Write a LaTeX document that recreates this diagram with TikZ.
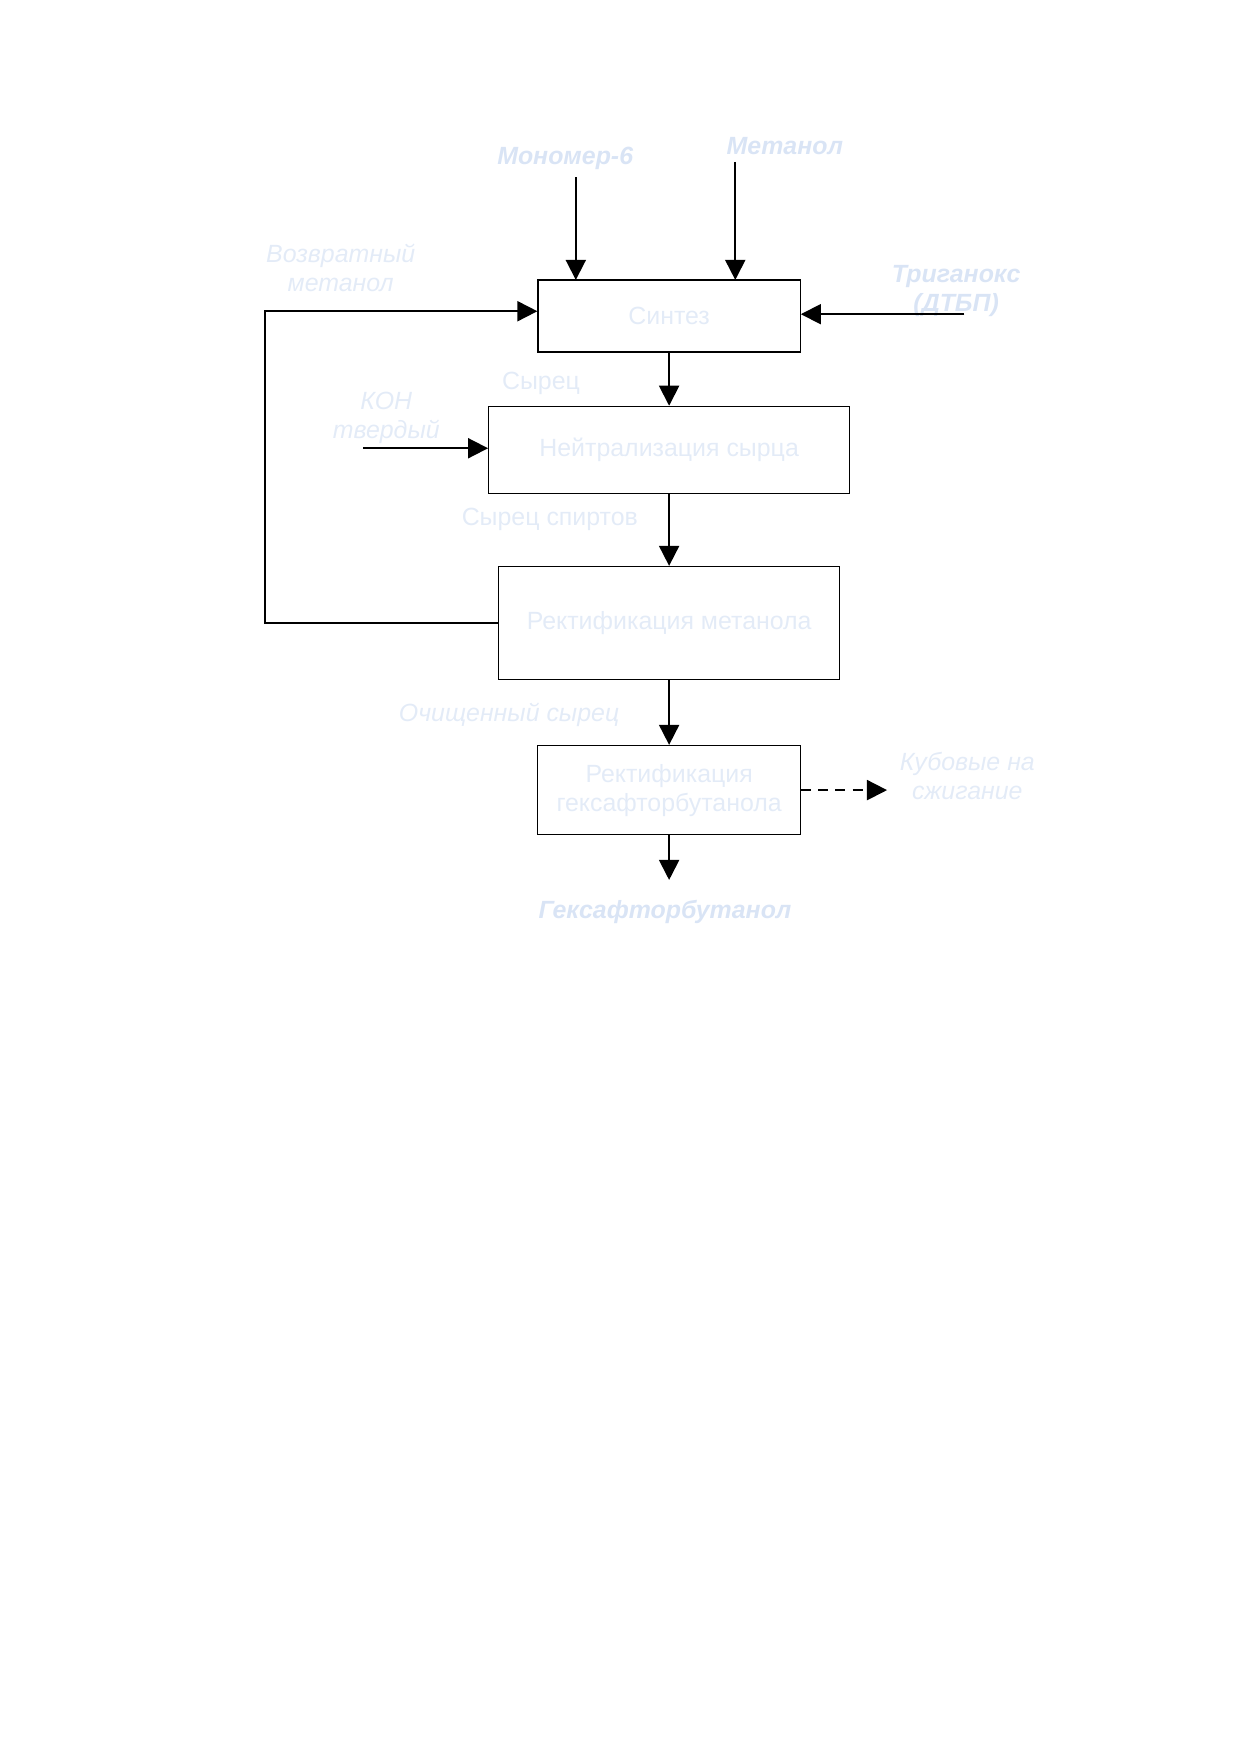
\documentclass[tikz,border=0pt]{standalone}
\usepackage{fontspec}
\setmainfont{Liberation Sans}
\usetikzlibrary{arrows.meta, positioning}

\definecolor{palefont}{RGB}{227,235,247}
\definecolor{palebold}{RGB}{217,228,245}

\tikzset{
    unit/.style = {draw, line width=0.6pt, align=center, text=palefont,
                   font=\fontsize{12}{14}\selectfont},
    feed/.style = {align=center, text=palebold,
                   font=\fontsize{12}{14}\selectfont\bfseries\itshape},
    side/.style = {align=center, text=palefont,
                   font=\fontsize{12}{14}\selectfont\itshape},
    flow/.style = {text=palefont, font=\fontsize{12}{14}\selectfont},
}

\begin{document}
\begin{tikzpicture}[auto, node distance = 1cm]
            \useasboundingbox (0,0) rectangle (21,-29.7);

            \node (synth) [unit, minimum width=4.44cm, minimum height=1.22cm] at (11.33,-5.35) {Синтез};
            \node (neutr) [unit, minimum width=6.11cm, minimum height=1.47cm, below=0.9cm of synth] {Нейтрализация сырца};
            \node (rectm) [unit, minimum width=5.77cm, minimum height=1.91cm, below=1.22cm of neutr] {Ректификация метанола};
            \node (hfb) [unit, minimum width=4.45cm, minimum height=1.51cm, below=1.1cm of rectm] {Ректификация\\гексафторбутанола};

            \node (mono) [feed] at (9.57,-2.69) {Мономер-6};
            \node (meth) [feed] at (13.29,-2.47) {Метанол};
            \node (trig) [feed] at (16.19,-4.92) {Триганокс\\(ДТБП)};
            \node (prod) [feed] at (11.26,-15.44) {Гексафторбутанол};
            \node (back) [side] at (5.77,-4.54) {Возвратный\\метанол};
            \node (koh) [side] at (6.54,-7.08) {КОН\\твердый};
            \node (waste) [side] at (16.38,-13.14) {Кубовые на\\сжигание};
            \node (pure) [side] at (8.62,-12.1) {Очищенный сырец};
            \node (raw) [flow] at (9.16,-6.5) {Сырец};
            \node (rawalc) [flow] at (9.31,-8.8) {Сырец спиртов};

            \coordinate (monoin) at (9.75,-4.74);
            \coordinate (methin) at (12.45,-4.74);
            \coordinate (trigout) at (16.33,-5.32);
            \coordinate (kohout) at (6.15,-7.59);
            \coordinate (ret) at (4.49,-5.27);
            \coordinate (wastein) at (15.02,-13.29);
            \coordinate (prodin) at (11.33,-14.9);

            \path[-{Triangle[length=3.4mm, width=3.4mm]}, line width=0.9pt]
            (mono.south -| monoin) edge (monoin)
            (meth.south -| methin) edge (methin)
            (trigout) edge (trigout -| synth.east)
            (synth) edge (neutr)
            (kohout) edge (kohout -| neutr.west)
            (neutr) edge (rectm)
            (rectm) edge (hfb)
            (hfb) edge (prodin)
            (hfb.east) edge [dash pattern=on 1.7mm off 1.2mm] (hfb.east -| wastein);

            \draw[-{Triangle[length=3.4mm, width=3.4mm]}, line width=0.9pt]
            (rectm.west) -| (ret) -- (ret -| synth.west);
        \end{tikzpicture}
\end{document}
